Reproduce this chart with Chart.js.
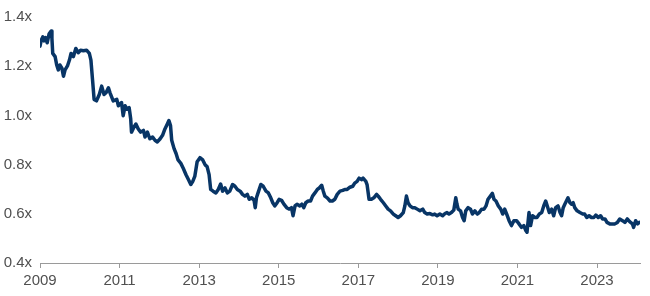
<!DOCTYPE html>
<html>
<head>
<meta charset="utf-8">
<script src="https://cdn.jsdelivr.net/npm/chart.js@4.4.1/dist/chart.umd.min.js"></script>
<style>
  html, body { margin: 0; padding: 0; background: #fff; }
  #wrap { width: 650px; height: 296px; }
</style>
</head>
<body>
<div id="wrap"><canvas id="chart-multiple"></canvas></div>
<script>
// decimal years
const dates = [
  2009.00, 2009.03, 2009.07, 2009.10, 2009.14, 2009.18, 2009.23, 2009.28, 2009.30, 2009.32,
  2009.38, 2009.42, 2009.46, 2009.50, 2009.55, 2009.59, 2009.63, 2009.69, 2009.74, 2009.78,
  2009.84, 2009.90, 2009.96, 2010.02, 2010.09, 2010.17, 2010.24, 2010.28, 2010.32, 2010.36,
  2010.42, 2010.49, 2010.55, 2010.61, 2010.66, 2010.72, 2010.76, 2010.84, 2010.93, 2010.97,
  2011.05, 2011.09, 2011.14, 2011.19, 2011.24, 2011.28, 2011.30, 2011.36, 2011.41, 2011.47,
  2011.53, 2011.60, 2011.64, 2011.70, 2011.76, 2011.83, 2011.89, 2011.95, 2012.02, 2012.08,
  2012.14, 2012.20, 2012.24, 2012.28, 2012.31, 2012.37, 2012.42, 2012.47, 2012.54, 2012.60,
  2012.67, 2012.73, 2012.79, 2012.84, 2012.89, 2012.95, 2013.02, 2013.09, 2013.15, 2013.20,
  2013.25, 2013.29, 2013.35, 2013.42, 2013.48, 2013.54, 2013.59, 2013.65, 2013.71, 2013.77,
  2013.84, 2013.90, 2013.96, 2014.03, 2014.09, 2014.15, 2014.21, 2014.26, 2014.32, 2014.38,
  2014.41, 2014.44, 2014.48, 2014.55, 2014.61, 2014.68, 2014.74, 2014.80, 2014.85, 2014.90,
  2014.96, 2015.01, 2015.07, 2015.13, 2015.20, 2015.26, 2015.32, 2015.36, 2015.41, 2015.46,
  2015.53, 2015.58, 2015.63, 2015.68, 2015.74, 2015.80, 2015.85, 2015.91, 2015.97, 2016.02,
  2016.08, 2016.12, 2016.16, 2016.22, 2016.29, 2016.35, 2016.41, 2016.47, 2016.54, 2016.61,
  2016.66, 2016.72, 2016.79, 2016.86, 2016.91, 2016.97, 2017.02, 2017.08, 2017.12, 2017.19,
  2017.22, 2017.27, 2017.33, 2017.39, 2017.46, 2017.50, 2017.56, 2017.63, 2017.69, 2017.75,
  2017.81, 2017.88, 2017.94, 2018.00, 2018.06, 2018.13, 2018.17, 2018.21, 2018.25, 2018.30,
  2018.36, 2018.42, 2018.48, 2018.55, 2018.62, 2018.67, 2018.73, 2018.80, 2018.87, 2018.92,
  2018.98, 2019.05, 2019.12, 2019.18, 2019.23, 2019.28, 2019.34, 2019.40, 2019.45, 2019.48,
  2019.51, 2019.57, 2019.62, 2019.66, 2019.70, 2019.76, 2019.82, 2019.87, 2019.93, 2019.99,
  2020.04, 2020.10, 2020.16, 2020.21, 2020.26, 2020.32, 2020.37, 2020.41, 2020.46, 2020.52,
  2020.58, 2020.63, 2020.68, 2020.73, 2020.79, 2020.85, 2020.91, 2020.98, 2021.04, 2021.10,
  2021.16, 2021.21, 2021.24, 2021.29, 2021.33, 2021.38, 2021.44, 2021.49, 2021.55, 2021.61,
  2021.66, 2021.71, 2021.75, 2021.80, 2021.86, 2021.91, 2021.96, 2022.02, 2022.07, 2022.11,
  2022.15, 2022.19, 2022.23, 2022.27, 2022.32, 2022.36, 2022.40, 2022.44, 2022.50, 2022.57,
  2022.64, 2022.69, 2022.74, 2022.80, 2022.86, 2022.92, 2022.97, 2023.03, 2023.09, 2023.14,
  2023.20, 2023.25, 2023.32, 2023.39, 2023.45, 2023.51, 2023.57, 2023.64, 2023.70, 2023.76,
  2023.82, 2023.89, 2023.92, 2023.97, 2024.02, 2024.06
];

// valuation multiple (x)
const multiple = [
  1.281, 1.305, 1.319, 1.303, 1.316, 1.295, 1.332, 1.343, 1.312, 1.252,
  1.239, 1.205, 1.185, 1.205, 1.192, 1.159, 1.185, 1.201, 1.225, 1.252,
  1.239, 1.272, 1.255, 1.265, 1.263, 1.265, 1.252, 1.225, 1.145, 1.065,
  1.059, 1.085, 1.119, 1.085, 1.092, 1.112, 1.092, 1.059, 1.065, 1.039,
  1.052, 0.999, 1.039, 1.025, 1.032, 0.985, 0.932, 0.952, 0.965, 0.945,
  0.932, 0.939, 0.912, 0.932, 0.905, 0.912, 0.899, 0.892, 0.905, 0.919,
  0.945, 0.965, 0.979, 0.959, 0.899, 0.865, 0.845, 0.819, 0.805, 0.785,
  0.759, 0.739, 0.719, 0.732, 0.752, 0.812, 0.828, 0.819, 0.799, 0.792,
  0.759, 0.699, 0.692, 0.685, 0.699, 0.721, 0.692, 0.705, 0.685, 0.692,
  0.719, 0.712, 0.699, 0.692, 0.679, 0.672, 0.679, 0.659, 0.665, 0.655,
  0.625, 0.665, 0.685, 0.719, 0.712, 0.692, 0.685, 0.665, 0.645, 0.632,
  0.645, 0.659, 0.655, 0.639, 0.625, 0.619, 0.625, 0.592, 0.632, 0.639,
  0.632, 0.639, 0.625, 0.645, 0.652, 0.652, 0.672, 0.685, 0.699, 0.705,
  0.716, 0.692, 0.672, 0.665, 0.652, 0.652, 0.659, 0.679, 0.692, 0.695,
  0.699, 0.699, 0.708, 0.712, 0.725, 0.732, 0.745, 0.739, 0.745, 0.732,
  0.719, 0.659, 0.659, 0.665, 0.679, 0.672, 0.659, 0.645, 0.632, 0.619,
  0.612, 0.599, 0.592, 0.585, 0.592, 0.605, 0.632, 0.672, 0.645, 0.632,
  0.625, 0.625, 0.619, 0.612, 0.619, 0.605, 0.599, 0.601, 0.596, 0.599,
  0.592, 0.599, 0.592, 0.601, 0.605, 0.599, 0.605, 0.615, 0.665, 0.639,
  0.619, 0.612, 0.585, 0.572, 0.612, 0.625, 0.619, 0.599, 0.612, 0.599,
  0.605, 0.619, 0.619, 0.632, 0.659, 0.672, 0.683, 0.659, 0.652, 0.632,
  0.619, 0.599, 0.619, 0.599, 0.572, 0.552, 0.572, 0.572, 0.559, 0.545,
  0.552, 0.532, 0.525, 0.605, 0.552, 0.592, 0.585, 0.585, 0.599, 0.605,
  0.632, 0.652, 0.632, 0.605, 0.619, 0.592, 0.625, 0.632, 0.605, 0.592,
  0.625, 0.639, 0.652, 0.665, 0.645, 0.639, 0.645, 0.625, 0.612, 0.605,
  0.599, 0.599, 0.585, 0.592, 0.585, 0.585, 0.595, 0.585, 0.592, 0.579,
  0.579, 0.565, 0.559, 0.559, 0.559, 0.565, 0.579, 0.572, 0.565, 0.579,
  0.568, 0.559, 0.545, 0.572, 0.559, 0.565
];

const yearTicks = [2009, 2011, 2013, 2015, 2017, 2019, 2021, 2023];
const yTicks = [0.4, 0.6, 0.8, 1.0, 1.2, 1.4];

const el = document.getElementById('chart-multiple');
const tickFont = { family: "'Liberation Sans', Arial, sans-serif", size: 15 };

new Chart(el, {
    type: 'line',
    data: {
        datasets: [
            {
                label: 'Multiple',
                data: dates.map((d, i) => ({ x: d, y: multiple[i] })),
                borderColor: '#083566',
                borderWidth: 3.5,
                borderJoinStyle: 'round',
                borderCapStyle: 'round',
                pointRadius: 0,
                tension: 0,
                fill: false,
            },
        ],
    },
    options: {
        responsive: true,
        maintainAspectRatio: false,
        animation: false,
        layout: { padding: { top: 13, right: 10, left: 0, bottom: 0 } },
        plugins: {
            legend: { display: false },
            tooltip: { enabled: false },
        },
        scales: {
            x: {
                type: 'linear',
                min: 2009,
                max: 2024.08,
                afterBuildTicks: (scale) => {
                    scale.ticks = yearTicks.map((v) => ({ value: v }));
                },
                afterFit: (scale) => { scale.height = 33; },
                grid: {
                    drawOnChartArea: false,
                    drawTicks: true,
                    tickLength: 5,
                    color: '#9a9a9a',
                },
                border: { display: true, color: '#9a9a9a', width: 1 },
                ticks: {
                    color: '#505050',
                    font: tickFont,
                    padding: 4,
                    maxRotation: 0,
                    autoSkip: false,
                    callback: (v) => String(v),
                },
            },
            y: {
                min: 0.4,
                max: 1.4,
                afterBuildTicks: (scale) => {
                    scale.ticks = yTicks.map((v) => ({ value: v }));
                },
                afterFit: (scale) => { scale.width = 40; },
                grid: { display: false, drawTicks: false },
                border: { display: false },
                ticks: {
                    color: '#505050',
                    font: tickFont,
                    padding: 8,
                    callback: (v) => v.toFixed(1) + 'x',
                },
            },
        },
    },
});
</script>
</body>
</html>
